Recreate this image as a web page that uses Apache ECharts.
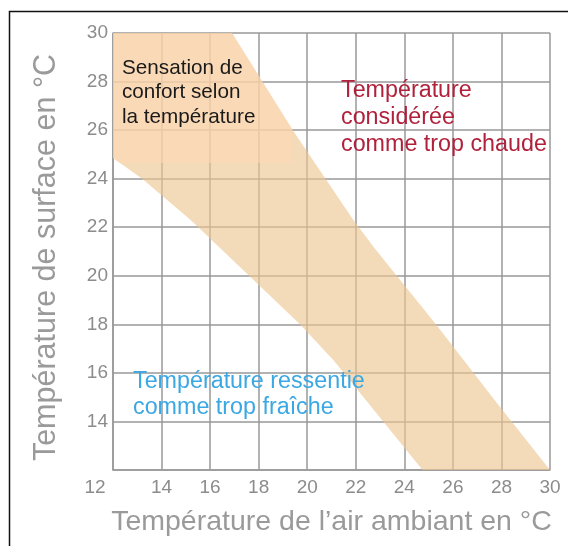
<!DOCTYPE html>
<html>
<head>
<meta charset="utf-8">
<script src="https://cdn.jsdelivr.net/npm/echarts@6/dist/echarts.min.js"></script>
<style>
  html, body { margin: 0; padding: 0; background: #fff; }
  #chart { width: 568px; height: 546px; }
</style>
</head>
<body>
<div id="chart"></div>
<script>
// bande de confort : bord "chaud" (haut/droite) et bord "frais" (bas/gauche)
var warmEdge = [[16.9, 30], [19.4, 26.0], [21.9, 22.3], [22.8, 21.1], [25.3, 18.0], [27.7, 14.9], [30, 12]];
var coolEdge = [[12, 24.85], [13.2, 24.0], [15.2, 22.3], [19.7, 18.0], [21.1, 16.5], [24.75, 12]];
var cornerPoint = [12, 30];
var xRange = [12, 30];
var yRange = [12, 30];
var tickStep = 2;

var xTitle = 'Température de l’air ambiant en °C';
var yTitle = 'Température de surface en °C';
var noteComfort = 'Sensation de\nconfort selon\nla température';
var noteHot = 'Température\nconsidérée\ncomme trop chaude';
var noteCold = 'Température ressentie\ncomme trop fraîche';

var band = [cornerPoint].concat(warmEdge, coolEdge.slice().reverse());

// découpe du polygone par un rectangle (zone teintée derrière le texte)
function clipPoly(poly, x0, x1, y0, y1) {
    var edges = [
        function (p) { return p[0] >= x0; },
        function (p) { return p[0] <= x1; },
        function (p) { return p[1] >= y0; },
        function (p) { return p[1] <= y1; }
    ];
    var cut = [
        function (a, b) { var t = (x0 - a[0]) / (b[0] - a[0]); return [x0, a[1] + t * (b[1] - a[1])]; },
        function (a, b) { var t = (x1 - a[0]) / (b[0] - a[0]); return [x1, a[1] + t * (b[1] - a[1])]; },
        function (a, b) { var t = (y0 - a[1]) / (b[1] - a[1]); return [a[0] + t * (b[0] - a[0]), y0]; },
        function (a, b) { var t = (y1 - a[1]) / (b[1] - a[1]); return [a[0] + t * (b[0] - a[0]), y1]; }
    ];
    var out = poly;
    for (var k = 0; k < 4; k++) {
        var inp = out;
        out = [];
        for (var i = 0; i < inp.length; i++) {
            var cur = inp[i], prev = inp[(i + inp.length - 1) % inp.length];
            var cIn = edges[k](cur), pIn = edges[k](prev);
            if (cIn) {
                if (!pIn) out.push(cut[k](prev, cur));
                out.push(cur);
            } else if (pIn) {
                out.push(cut[k](prev, cur));
            }
        }
    }
    return out;
}
var tinted = clipPoly(band, 12, 19.4, 24.65, 30);

var font = 'Liberation Sans, Arial, sans-serif';
var grey = '#999999';

var chart = echarts.init(document.getElementById('chart'));
chart.setOption({
    animation: false,
    grid: { left: 113, top: 33, right: 18, bottom: 76 },
    xAxis: {
        type: 'value',
        min: xRange[0], max: xRange[1], interval: tickStep,
        name: xTitle,
        nameLocation: 'middle',
        nameGap: 38,
        nameTextStyle: { color: '#9a9a9a', fontSize: 28.5, fontFamily: font },
        axisLine: { lineStyle: { color: grey, width: 1.5 } },
        axisTick: { show: false },
        splitLine: { show: true, lineStyle: { color: grey, width: 1.5 } },
        axisLabel: {
            color: '#8c8c8c', fontSize: 19, fontFamily: font, margin: 8,
            formatter: function (v) { return v === 12 ? '{c|12}' : String(v); },
            rich: { c: { color: '#8c8c8c', fontSize: 19, fontFamily: font, padding: [0, 36, 0, 0] } }
        }
    },
    yAxis: {
        type: 'value',
        min: yRange[0], max: yRange[1], interval: tickStep,
        name: yTitle,
        nameLocation: 'middle',
        nameGap: 51,
        nameTextStyle: { color: '#9a9a9a', fontSize: 30.5, fontFamily: font, padding: [0, 12, 0, 0] },
        axisLine: { show: true, lineStyle: { color: grey, width: 1.5 } },
        axisTick: { show: false },
        splitLine: { show: true, lineStyle: { color: grey, width: 1.5 } },
        axisLabel: { color: '#8c8c8c', fontSize: 19, fontFamily: font, margin: 5, showMinLabel: false }
    },
    series: [{
        type: 'custom',
        silent: true,
        data: [0],
        renderItem: function (params, api) {
            var pts = band.map(function (p) { return api.coord(p); });
            var tpts = tinted.map(function (p) { return api.coord(p); });
            return {
                type: 'group',
                children: [
                    { type: 'polygon', shape: { points: pts }, style: { fill: 'rgba(236,198,144,0.63)' } },
                    { type: 'polygon', shape: { points: tpts }, style: { fill: 'rgba(255,215,180,0.55)' } }
                ]
            };
        }
    }],
    graphic: [
        { type: 'rect', left: 7, top: 9, z: 100, silent: true,
          shape: { width: 600, height: 600 }, style: { fill: 'none', stroke: '#111', lineWidth: 1.5 } },
        { type: 'text', left: 122, top: 56, z: 100,
          style: { text: noteComfort, fontSize: 20.7, fontFamily: font, fill: '#1a1a1a', lineHeight: 24.5 } },
        { type: 'text', left: 341, top: 77, z: 100,
          style: { text: noteHot, fontSize: 23.3, fontFamily: font, fill: '#b0223c', lineHeight: 27 } },
        { type: 'text', left: 133, top: 369, z: 100,
          style: { text: noteCold, fontSize: 23.3, fontFamily: font, fill: '#3ba7e3', lineHeight: 26 } }
    ]
});
</script>
</body>
</html>
